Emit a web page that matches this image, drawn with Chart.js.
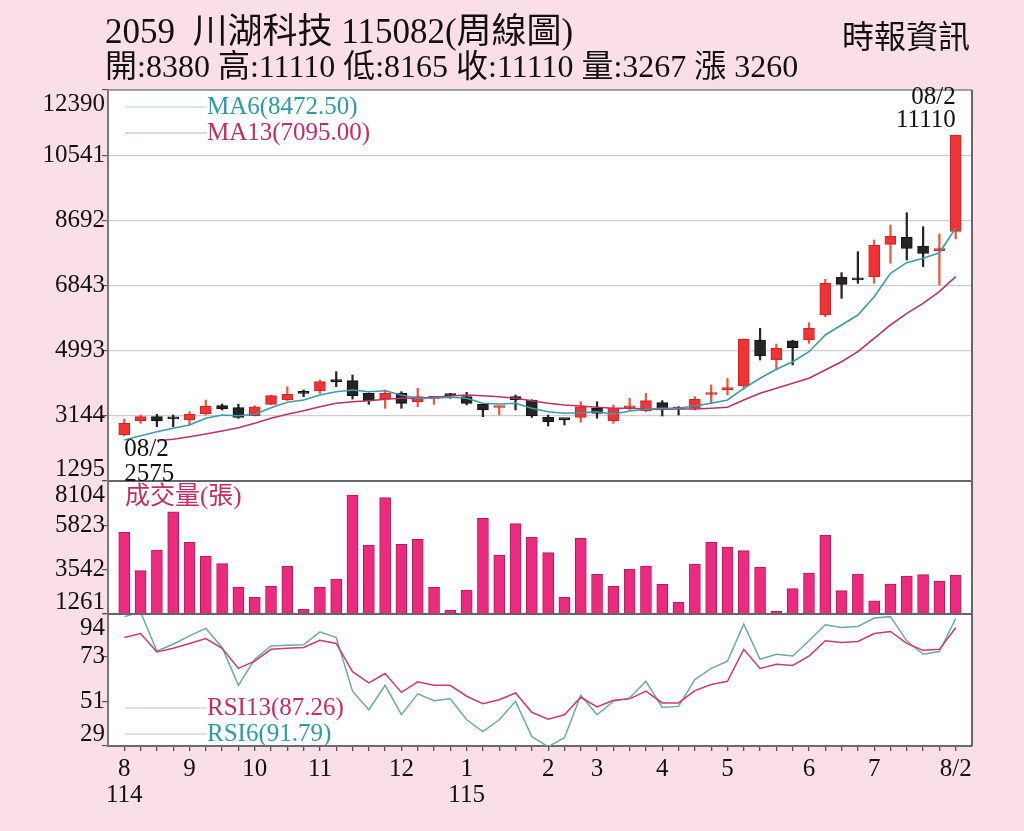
<!DOCTYPE html>
<html lang="zh-Hant">
<head>
<meta charset="utf-8">
<title>川湖科技 周線圖</title>
<script src="https://cdn.jsdelivr.net/npm/chart.js@4.4.1/dist/chart.umd.min.js"></script>
<style>
  html, body { margin: 0; padding: 0; background: #fbdfe8; }
  #wrap { position: relative; width: 1024px; height: 831px; overflow: hidden; }
  #wrap canvas { position: absolute; left: 0; top: 0; }
  .hd { position: absolute; font-family: "Liberation Serif", "Noto Sans CJK TC", serif; color: #111; white-space: nowrap; line-height: 1; }
  #title { left: 105px; top: 14px; font-size: 35px; }
  #sub { left: 105px; top: 50px; font-size: 32px; }
  #brand { right: 54px; top: 21px; font-size: 32px; }
</style>
</head>
<body>
<div id="wrap">
  <canvas id="kChart"></canvas>
  <div class="hd" id="title">2059&nbsp; 川湖科技 115082(周線圖)</div>
  <div class="hd" id="sub"></div>
  <div class="hd" id="brand">時報資訊</div>
</div>
<script>
// weekly bars, 114/08 week 2 .. 115/08 week 2
const weeks = ["8","","","","9","","","","10","","","","11","","","","","12","","","",
  "1","","","","","2","","","3","","","","4","","","","5","","","","","6","","","",
  "7","","","","","8/2"];
const years = { 0: "114", 21: "115" };

const opens  = [2600,2998,3120,3075,3026,3196,3432,3375,3148,3471,3593,3795,3857,4125,4141,3783,3622,3783,3545,3640,3730,3687,3471,3380,3687,3593,
                3102,3045,3102,3358,3006,3370,3290,3517,3390,3358,3750,3890,3991,5296,4728,5276,5296,6005,7075,7040,7092,8011,8210,7963,7830,8380];
const highs  = [3054,3168,3188,3168,3261,3593,3480,3471,3432,3730,3971,3877,4161,4396,4303,3790,3877,3829,3925,3687,3783,3812,3480,3403,3735,3600,
                3168,3050,3545,3545,3452,3640,3783,3574,3403,3687,4020,4210,5330,5628,5183,5290,5787,7018,7207,7802,8134,8559,8909,8512,8304,11110];
const lows   = [2575,2932,2836,2836,2884,3168,3310,3075,3140,3460,3580,3687,3782,3971,3622,3471,3358,3358,3403,3471,3640,3452,3120,3168,3310,3100,
                2856,2884,2960,3075,2932,3310,3261,3140,3168,3310,3499,3735,3900,4728,4445,4586,5202,5957,6479,6905,6905,7472,7566,7378,6857,8165];
const closes = [2932,3120,2998,3060,3188,3423,3338,3102,3403,3716,3755,3780,4113,4113,3716,3565,3783,3499,3687,3655,3716,3499,3310,3392,3593,3148,
                2978,3035,3403,3216,3358,3385,3574,3329,3338,3613,3765,3905,5316,4842,5060,5078,5628,6905,6876,7000,7980,8241,7898,7756,7850,11110];

const ma6  = [2458,2580,2694,2790,2884,3074,3168,3148,3188,3375,3528,3593,3735,3829,3877,3829,3857,3735,3642,3642,3670,3642,3500,3480,3500,3358,
              3261,3216,3233,3261,3188,3281,3330,3358,3358,3423,3500,3593,3925,4209,4465,4680,4964,5438,5722,6005,6525,7189,7490,7614,7773,8472.50];
const ma13 = [null,null,2439,2478,2552,2629,2714,2807,2932,3074,3188,3290,3403,3500,3545,3574,3613,3642,3642,3670,3707,3735,3716,3687,3642,3574,
              3500,3452,3423,3386,3358,3358,3338,3330,3338,3338,3358,3386,3593,3783,3925,4067,4209,4445,4680,4964,5344,5722,6053,6337,6667,7095.00];

const volumes = [5465,3489,4554,6524,4950,4245,3849,2650,2120,2686,3731,1503,2635,3062,7384,4811,7245,4847,5104,2635,1467,2496,6185,4297,5907,5223,
                 4415,2120,5156,3304,2702,3576,3731,2789,1878,3834,4950,4708,4518,3664,1400,2563,3370,5326,2460,3319,1945,2805,3216,3283,2959,3267];

const rsi13 = [82.4,84.4,75.3,77.1,79.5,81.9,77.1,67.2,70.8,76.6,77.1,77.5,81.1,79.5,65.6,60.1,64.7,55.4,60.6,58.9,58.9,53.5,49.8,51.8,55.1,45.6,
               42.2,44.4,53.0,48.2,51.5,52.2,56.0,50.2,50.2,56.3,59.3,60.9,76.6,67.2,69.2,68.7,73.3,80.8,80.0,80.5,84.4,85.4,79.5,76.1,76.6,87.26];
const rsi6  = [92.7,94.9,75.8,79.1,83.2,86.9,77.5,58.9,71.7,78.3,78.6,78.8,85.2,82.4,56.0,46.9,58.9,44.4,54.7,51.3,52.3,41.9,36.1,41.9,51.0,33.6,
               28.7,33.1,54.0,44.4,51.0,52.7,60.9,48.0,48.5,61.7,67.2,70.8,89.0,71.7,74.2,73.3,80.8,88.7,87.4,87.9,92.0,92.7,80.8,74.2,75.5,91.79];

const priceTicks = [1295, 3144, 4993, 6843, 8692, 10541, 12390];
const volTicks   = [1261, 3542, 5823, 8104];
const rsiTicks   = [29, 51, 73, 94];

const FONT = '"Liberation Serif", "Noto Sans CJK TC", serif';
const RED = '#ee3434', RED_EDGE = '#cf2222', RED_WICK = '#e8583a';
const BLACK = '#252525';
const TEAL = '#2d9aa7', CRIMSON = '#c92a62';

const last = closes.length - 1;
document.getElementById('sub').textContent =
  `開:${opens[last]} 高:${highs[last]} 低:${lows[last]} 收:${closes[last]} 量:${volumes[last]} 漲 ${closes[last] - closes[last - 1]}`;

const idx = weeks.map((_, i) => i);
const isUp = i => closes[i] >= opens[i];
const pts = arr => idx.map(i => ({ x: i, y: arr[i] }));

const panels = {
  id: 'panels',
  beforeDraw(chart) {
    const { ctx, chartArea: a } = chart;
    ctx.save();
    ctx.fillStyle = '#ffffff';
    ctx.fillRect(a.left, a.top, a.width, a.height);
    ctx.restore();
  },
  afterDraw(chart) {
    const { ctx, chartArea: a, scales } = chart;
    ctx.save();
    // frame and panel separators
    ctx.strokeStyle = '#8a8a8a';
    ctx.lineWidth = 1.5;
    ctx.beginPath();
    ctx.moveTo(a.left, a.top); ctx.lineTo(a.right, a.top);
    ctx.stroke();
    ctx.strokeStyle = '#666';
    ctx.lineWidth = 2;
    ctx.beginPath();
    ctx.moveTo(a.right, a.top); ctx.lineTo(a.right, a.bottom);
    ctx.moveTo(a.left, scales.yv.top); ctx.lineTo(a.right, scales.yv.top);
    ctx.moveTo(a.left, scales.yr.top); ctx.lineTo(a.right, scales.yr.top);
    ctx.stroke();

    // y tick labels, end labels pulled inside their panel
    ctx.font = `25px ${FONT}`;
    ctx.fillStyle = '#111';
    ctx.textAlign = 'right';
    ctx.textBaseline = 'middle';
    [[scales.y, priceTicks], [scales.yv, volTicks], [scales.yr, rsiTicks]].forEach(([s, vals]) => {
      vals.forEach((v, i) => {
        let y = s.getPixelForValue(v);
        if (i === 0) y -= 12;
        if (i === vals.length - 1) y += 14;
        ctx.fillText(String(v), s.right - 3, y);
      });
    });

    // legends
    const lx = a.left + 17, tx = a.left + 99;
    const legend = (y, lineColor, color, text) => {
      ctx.strokeStyle = lineColor;
      ctx.lineWidth = 1.2;
      ctx.beginPath(); ctx.moveTo(lx, y); ctx.lineTo(tx, y); ctx.stroke();
      ctx.fillStyle = color;
      ctx.textAlign = 'left';
      ctx.fillText(text, tx, y);
    };
    legend(a.top + 17, '#a9cfd2', TEAL, `MA6(${ma6[last].toFixed(2)})`);
    legend(a.top + 43, '#cdaab8', CRIMSON, `MA13(${ma13[last].toFixed(2)})`);
    legend(scales.yr.top + 94, '#d4bcc6', CRIMSON, `RSI13(${rsi13[last].toFixed(2)})`);
    legend(scales.yr.top + 120, '#b2ccca', TEAL, `RSI6(${rsi6[last].toFixed(2)})`);
    ctx.fillStyle = CRIMSON;
    ctx.fillText('成交量(張)', lx, scales.yv.top + 16);

    // high / low marks
    const hi = highs.indexOf(Math.max(...highs));
    const lo = lows.indexOf(Math.min(...lows));
    ctx.fillStyle = '#111';
    let x = scales.x.getPixelForValue(hi), y = scales.y.getPixelForValue(highs[hi]);
    ctx.textAlign = 'right';
    ctx.fillText('08/2', x, y - 38);
    ctx.fillText(String(highs[hi]), x, y - 15);
    x = scales.x.getPixelForValue(lo); y = scales.y.getPixelForValue(lows[lo]);
    ctx.textAlign = 'left';
    ctx.fillText('08/2', x, y + 14);
    ctx.fillText(String(lows[lo]), x, y + 39);
    ctx.restore();
  }
};

const yBase = (weight, min, max, vals, onArea) => ({
  type: 'linear', position: 'left', stack: 'k', stackWeight: weight,
  min, max,
  afterBuildTicks: s => { s.ticks = vals.map(v => ({ value: v })); },
  afterFit: s => { s.width = 108; },
  ticks: { display: false },
  grid: { drawOnChartArea: onArea, color: '#cdcdcd', lineWidth: 1.2, tickLength: 6, tickColor: '#555' },
  border: { color: '#7a7a7a', width: 2 }
});

new Chart(document.getElementById('kChart'), {
  type: 'bar',
  data: {
    datasets: [
      { type: 'line', label: 'MA6', data: pts(ma6), yAxisID: 'y', borderColor: '#3a9ca8', borderWidth: 1.6, pointRadius: 0, order: 0 },
      { type: 'line', label: 'MA13', data: pts(ma13), yAxisID: 'y', borderColor: '#b8336a', borderWidth: 1.6, pointRadius: 0, order: 0 },
      { label: 'body', data: idx.map(i => ({ x: i, y: [opens[i], closes[i]] })), yAxisID: 'y',
        backgroundColor: c => isUp(c.dataIndex) ? RED : BLACK,
        borderColor: c => isUp(c.dataIndex) ? RED_EDGE : '#111',
        borderWidth: 1, borderSkipped: false, barThickness: 11, minBarLength: 2, grouped: false, order: 1 },
      { label: 'wick', data: idx.map(i => ({ x: i, y: [lows[i], highs[i]] })), yAxisID: 'y',
        backgroundColor: c => isUp(c.dataIndex) ? RED_WICK : BLACK,
        barThickness: 1.6, grouped: false, order: 2 },
      { label: '成交量', data: pts(volumes), yAxisID: 'yv',
        backgroundColor: '#ec2a7e', borderColor: '#b3195c', borderWidth: 1, borderSkipped: false,
        barThickness: 11, grouped: false, order: 1 },
      { type: 'line', label: 'RSI13', data: pts(rsi13), yAxisID: 'yr', borderColor: '#cc3a72', borderWidth: 1.5, pointRadius: 0, order: 0 },
      { type: 'line', label: 'RSI6', data: pts(rsi6), yAxisID: 'yr', borderColor: '#6aaba6', borderWidth: 1.5, pointRadius: 0, order: 0 }
    ]
  },
  options: {
    responsive: true,
    maintainAspectRatio: false,
    animation: false,
    layout: { padding: { left: 0, right: 52, top: 90, bottom: 0 } },
    plugins: { legend: { display: false }, tooltip: { enabled: false } },
    scales: {
      x: {
        type: 'linear', min: -1, max: 52, offset: false,
        afterBuildTicks: s => { s.ticks = idx.map(i => ({ value: i })); },
        afterFit: s => { s.height = 85; },
        ticks: {
          autoSkip: false, maxRotation: 0, padding: 5, color: '#111',
          font: { family: FONT, size: 25, lineHeight: 1.05 },
          callback: v => years[v] ? [weeks[v], years[v]] : weeks[v]
        },
        grid: { drawOnChartArea: false, offset: false, tickLength: 5, tickColor: '#555', lineWidth: 1.3 },
        border: { color: '#6a6a6a', width: 2 }
      },
      yr: yBase(132, 29, 94, rsiTicks, false),
      yv: yBase(133, 1261, 8104, volTicks, false),
      y: yBase(391, 1295, 12390, priceTicks, true)
    }
  },
  plugins: [panels]
});
</script>
</body>
</html>
